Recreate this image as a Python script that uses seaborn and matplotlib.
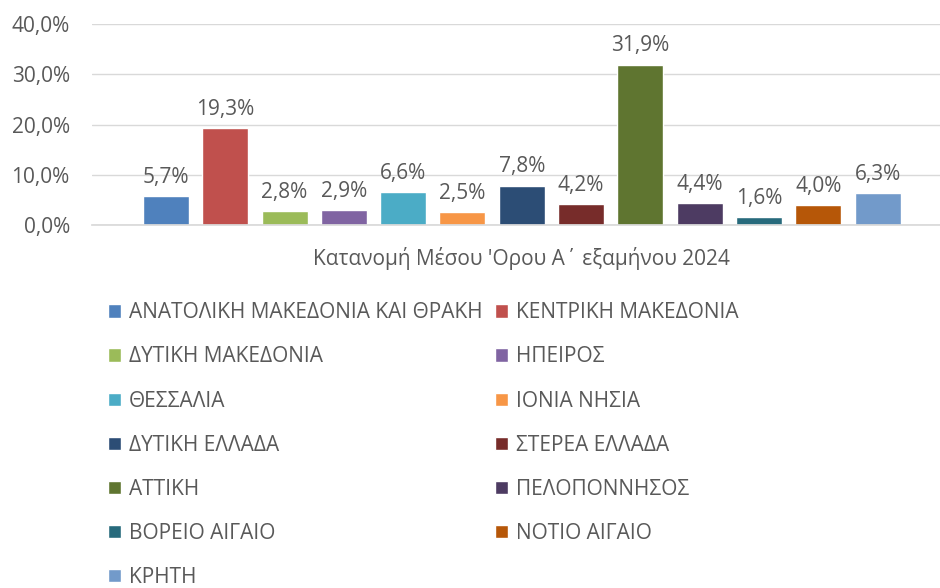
import pandas as pd
import seaborn as sns
import matplotlib.pyplot as plt

category = "Κατανομή Μέσου 'Ορου Α΄ εξαμήνου 2024"
regions = [
    "ΑΝΑΤΟΛΙΚΗ ΜΑΚΕΔΟΝΙΑ ΚΑΙ ΘΡΑΚΗ", "ΚΕΝΤΡΙΚΗ ΜΑΚΕΔΟΝΙΑ", "ΔΥΤΙΚΗ ΜΑΚΕΔΟΝΙΑ",
    "ΗΠΕΙΡΟΣ", "ΘΕΣΣΑΛΙΑ", "ΙΟΝΙΑ ΝΗΣΙΑ", "ΔΥΤΙΚΗ ΕΛΛΑΔΑ", "ΣΤΕΡΕΑ ΕΛΛΑΔΑ",
    "ΑΤΤΙΚΗ", "ΠΕΛΟΠΟΝΝΗΣΟΣ", "ΒΟΡΕΙΟ ΑΙΓΑΙΟ", "ΝΟΤΙΟ ΑΙΓΑΙΟ", "ΚΡΗΤΗ",
]
shares = [5.7, 19.3, 2.8, 2.9, 6.6, 2.5, 7.8, 4.2, 31.9, 4.4, 1.6, 4.0, 6.3]
colors = [
    "#4F81BD", "#C0504D", "#9BBB59", "#8064A2", "#4BACC6", "#F79646", "#2C4D75",
    "#772C2A", "#5F7530", "#4D3B62", "#276A7C", "#B65708", "#729ACA",
]
y_ticks = [0, 10, 20, 30, 40]

TEXT = "#595959"
GRID = "#D9D9D9"
FS = 15

sns.set_theme(style="white")
plt.rcParams["font.family"] = ["Open Sans", "DejaVu Sans"]

df = pd.DataFrame({"cat": [category] * len(regions), "region": regions, "share": shares})

fig = plt.figure(figsize=(9.4, 5.88), dpi=100)
ax = fig.add_axes([92 / 940, 363 / 588, 848 / 940, 201 / 588])

sns.barplot(data=df, x="cat", y="share", hue="region", hue_order=regions,
            palette=colors, saturation=1, width=0.8, gap=0.224,
            errorbar=None, ax=ax)

for cont, v in zip(ax.containers, shares):
    ax.bar_label(cont, labels=[f"{v:.1f}%".replace(".", ",")], padding=6,
                 fontsize=FS, color=TEXT)

ax.set_ylim(0, 40)
ax.set_xlim(-0.446, 0.434)
ax.set_yticks(y_ticks)
ax.set_yticklabels([f"{t:.1f}%".replace(".", ",") for t in y_ticks], fontsize=FS, color=TEXT)
ax.yaxis.grid(True, color=GRID, lw=1)
ax.set_axisbelow(True)
for s in ["top", "right", "left"]:
    ax.spines[s].set_visible(False)
ax.spines["bottom"].set_color(GRID)
ax.tick_params(axis="y", length=0, pad=16)
ax.tick_params(axis="x", length=0, pad=16, labelsize=FS, labelcolor=TEXT)
ax.set_xlabel("")
ax.set_ylabel("")

# legend below, two columns filled row by row
handles, labels = ax.get_legend_handles_labels()
ax.get_legend().remove()
order = list(range(0, 13, 2)) + list(range(1, 13, 2))
fig.legend([handles[i] for i in order], [labels[i] for i in order],
           ncol=2, loc="upper left", bbox_to_anchor=(100 / 940, 1 - 294 / 588),
           frameon=False, fontsize=FS, labelcolor=TEXT,
           handlelength=0.6, handleheight=0.6, handletextpad=0.4,
           columnspacing=0.6, labelspacing=1.11, borderaxespad=0)

fig.savefig("out.png", dpi=100)
